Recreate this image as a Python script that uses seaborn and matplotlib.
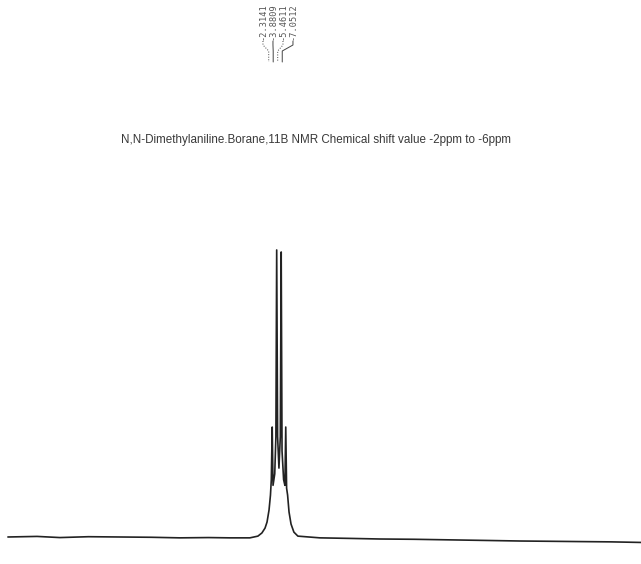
import matplotlib
matplotlib.use("Agg")
import matplotlib.pyplot as plt
import seaborn as sns
import pandas as pd

# ---- data ----
title = "N,N-Dimethylaniline.Borane,11B NMR Chemical shift value -2ppm to -6ppm"
peak_ppm = [-2.3141, -3.8809, -5.4611, -7.0512]
peak_labels = ["-2.3141", "-3.8809", "-5.4611", "-7.0512"]
label_styles = [":", "-", ":", "-"]

spec_ppm = [90.2, 80.0, 72.0, 62.0, 51.0, 40.0, 30.0, 20.0, 12.5, 5.5, 2.7, 1.3, 0.2,
            -0.5, -1.2, -1.7, -2.0, -2.31, -2.6, -3.2, -3.6, -3.88, -4.2, -4.67,
            -5.15, -5.46, -5.75, -6.3, -6.75, -7.05, -7.35, -7.7, -8.2, -8.9, -9.9,
            -11.3, -19.0, -30.0, -40.0, -52.0, -64.5, -77.0, -89.0, -100.0, -110.0,
            -121.0, -131.4]
spec_int = [0.0, 0.2, -0.2, 0.1, 0.0, -0.1, -0.3, -0.2, -0.3, -0.3, 0.3, 1.4, 3.1,
            5.2, 9.4, 14.6, 20.0, 38.3, 18.0, 22.0, 35.0, 100.0, 35.0, 24.0,
            35.0, 99.3, 30.0, 20.0, 18.0, 38.3, 17.0, 14.6, 8.7, 4.5, 1.7,
            0.3, -0.3, -0.5, -0.7, -0.8, -1.0, -1.2, -1.4, -1.5, -1.6,
            -1.7, -1.9]

df = pd.DataFrame({"ppm": spec_ppm, "intensity": spec_int})

sns.set_style("white")
plt.rcParams["font.family"] = ["Liberation Sans", "DejaVu Sans"]

fig = plt.figure(figsize=(6.41, 5.64), dpi=100)
ax = fig.add_axes([0, 0, 1, 1])
sns.lineplot(data=df, x="ppm", y="intensity", sort=False, estimator=None,
             color="#222222", linewidth=1.2, ax=ax)
ax.set_xlim(92.97, -131.4)
ax.set_ylim(-9.41, 187.1)
ax.set_axis_off()

# title
fig.text(0.493, 1 - 140 / 564, title, ha="center", va="center",
         fontsize=8.4, color="#3a3a3a")

# peak labels with leader lines
trans = ax.get_xaxis_transform()
ppm_per_px = (92.97 + 131.4) / 641
center = sum(peak_ppm) / len(peak_ppm)
tick_shift = 3.5 * ppm_per_px
label_spacing = 10 * ppm_per_px
H = 564.0
for i, (p, lab, ls) in enumerate(zip(peak_ppm, peak_labels, label_styles)):
    tx = p + tick_shift
    lx = center + 1.0 * ppm_per_px - (i - 1.5) * label_spacing
    ax.text(lx, 1 - 40 / H, lab, rotation=90, ha="center", va="bottom",
            fontsize=6.2, family="DejaVu Sans Mono", color="#555555",
            transform=trans)
    ax.plot([lx, lx, tx, tx], [1 - 41 / H, 1 - 45 / H, 1 - 51 / H, 1 - 62 / H],
            transform=trans, color="#444444", linewidth=0.7, linestyle=ls)

fig.savefig("out.png", dpi=100, facecolor="white")
